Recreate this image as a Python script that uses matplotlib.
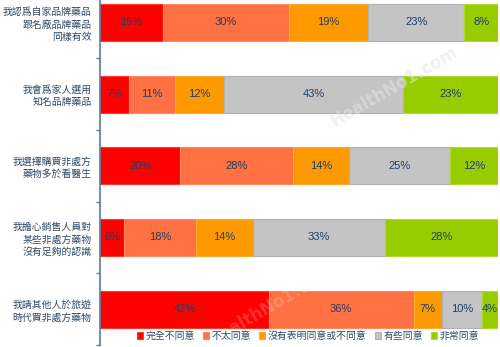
import matplotlib
matplotlib.use('Agg')
import matplotlib.pyplot as plt
import numpy as np

plt.rcParams['font.family'] = ['Noto Sans CJK TC', 'DejaVu Sans']

# survey statements (top to bottom) and answer shares in percent
statements = ['我認爲自家品牌藥品\n跟名廠品牌藥品\n同樣有效',
              '我會爲家人選用\n知名品牌藥品',
              '我選擇購買非處方\n藥物多於看醫生',
              '我擔心銷售人員對\n某些非處方藥物\n沒有足夠的認識',
              '我請其他人於旅遊\n時代買非處方藥物']
answers = ['完全不同意', '不太同意', '沒有表明同意或不同意', '有些同意', '非常同意']
strongly_disagree = [15, 7, 20, 6, 42]
disagree = [30, 11, 28, 18, 36]
neutral = [19, 12, 14, 14, 7]
agree = [23, 43, 25, 33, 10]
strongly_agree = [8, 23, 12, 28, 4]

colors = ['#FF0000', '#FF7043', '#FF9900', '#C4C4C4', '#99CC00']
edges = ['#FF3A2A', '#FF8A60', '#FFAA33', '#B0B0B8', '#B0DA30']
text_color = '#1F3F66'

series = np.array([strongly_disagree, disagree, neutral, agree, strongly_agree], dtype=float)
shares = series / series.sum(axis=0) * 100   # 100% stacked

fig = plt.figure(figsize=(5.0, 3.47), dpi=100)
ax = fig.add_axes([0.2, 2 / 347, 0.796, 358.5 / 347])

y = np.arange(len(statements))
left = np.zeros(len(statements))
for k in range(len(answers)):
    ax.barh(y, shares[k], left=left, height=0.515, color=colors[k],
            edgecolor=edges[k], linewidth=0.8, label=answers[k])
    for i in range(len(statements)):
        ax.text(left[i] + shares[k][i] / 2, y[i], '%d%%' % series[k][i],
                ha='center', va='center', fontsize=8, color=text_color,
                family='Liberation Sans')
    left += shares[k]

ax.set_xlim(0, 100)
ax.set_ylim(len(statements) - 0.5, -0.5)
ax.set_yticks(y)
ax.set_yticklabels(statements, fontsize=7.1, color='#2E4A66', linespacing=1.3)
ax.set_yticks(np.arange(len(statements) + 1) - 0.5, minor=True)
ax.tick_params(axis='y', which='major', length=0, pad=6)
ax.tick_params(axis='y', which='minor', length=3, color='#5A7A9A', width=1)
ax.set_xticks([])
for side in ['top', 'right', 'bottom']:
    ax.spines[side].set_visible(False)
ax.spines['left'].set_color('#5A7A9A')
ax.spines['left'].set_linewidth(1.2)

# faint site watermarks
ax.text(74, 0.9, 'HealthNo1.com', rotation=30, fontsize=12, color='#E4E4E4',
        alpha=0.55, ha='center', va='center', family='DejaVu Sans', fontweight='bold')
ax.text(43, 3.95, 'HealthNo1.com', rotation=30, fontsize=12, color='#FFFFFF',
        alpha=0.2, ha='center', va='center', family='DejaVu Sans', fontweight='bold')

fig.legend(loc='center', bbox_to_anchor=(0.616, 11 / 347), ncol=5, frameon=False,
           fontsize=7.1, handlelength=0.6, handleheight=0.6, handletextpad=0.3,
           columnspacing=0.8, borderaxespad=0, labelcolor='#2E4A66')

fig.savefig('out.png', dpi=100)
